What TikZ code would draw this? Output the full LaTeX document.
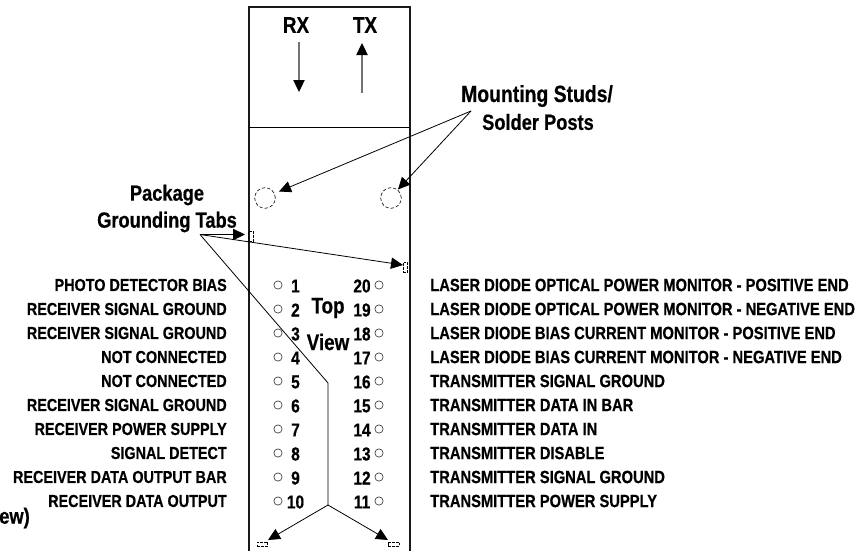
\documentclass[tikz,border=0pt]{standalone}
\usepackage{fontspec}
\setmainfont{Liberation Sans}[BoldFont={Liberation Sans Bold},BoldFeatures={FakeStretch=0.83,FakeBold=0.5},FakeStretch=0.83]
\usetikzlibrary{arrows.meta}
\tikzset{
  lbl/.style={font=\bfseries\fontsize{13}{13}\selectfont,inner sep=0pt,text=black},
  leftlbl/.style={lbl,anchor=east},
  rightlbl/.style={lbl,anchor=west,font=\bfseries\fontsize{13.3}{13.3}\selectfont},
  ctrlbl/.style={lbl,anchor=center,font=\bfseries\fontsize{16.5}{16.5}\selectfont},
  widelbl/.style={lbl,anchor=center,font=\bfseries\fontsize{17.5}{17.5}\selectfont},
  numlbl/.style={lbl,anchor=center,font=\bfseries\fontsize{14}{14}\selectfont},
  biglbl/.style={lbl,anchor=center,font=\bfseries\fontsize{17}{17}\selectfont},
  pin/.style={circle,draw=black!75,line width=0.5pt,minimum size=6.2pt,inner sep=0pt},
  stud/.style={circle,draw=black,dash pattern=on 2.5pt off 1.5pt,line width=0.45pt,minimum size=15.5pt,inner sep=0pt},
  tabbox/.style={draw=black,line width=0.6pt,dash pattern=on 2pt off 1pt,inner sep=0pt},
  body/.style={draw=black!90,line width=1pt},
  lead/.style={draw=black,line width=0.6pt},
  leadarrow/.style={lead,-{Triangle[length=9pt,width=8.5pt]}},
  flow/.style={draw=black!55,line width=0.8pt},
  flowarrow/.style={flow,-{Triangle[length=9pt,width=8.5pt,color=black]}},
}
\begin{document}
\begin{tikzpicture}[x=0.75pt,y=-0.75pt]
\useasboundingbox (0,0) rectangle (856,550);
\path[clip] (0,0) rectangle (856,550);
% package body
\coordinate (bTL) at (249,7);
\coordinate (bTR) at (410,7);
\coordinate (bBL) at (249,552);
\coordinate (bBR) at (410,552);
\coordinate (divL) at (249,127.5);
\coordinate (divR) at (410,127.5);
\draw[body] (bBL) -- (bTL) -- (bTR) -- (bBR);
\draw[body,line width=1.1pt,draw=black] (divL) -- (divR);
% RX TX
\node[biglbl] (rx) at (296,25) {RX};
\node[biglbl] (tx) at (365,25) {TX};
\coordinate (rxa) at (299,42);
\coordinate (rxb) at (299,92);
\coordinate (txa) at (362,92.5);
\coordinate (txb) at (362,43);
\draw[flowarrow] (rxa) -- (rxb);
\draw[flowarrow] (txa) -- (txb);
% studs
\node[stud] (studL) at (265,198) {};
\node[stud] (studR) at (391,198) {};
\node[widelbl] (ms1) at (537,96) {Mounting Studs/};
\node[ctrlbl] (ms2) at (538,122) {Solder Posts};
\coordinate (msO) at (471,111);
\coordinate (msL) at (279,191.5);
\coordinate (msR) at (398,189.5);
\draw[leadarrow] (msO) -- (msL);
\draw[leadarrow] (msO) -- (msR);
% tabs
\node[tabbox,minimum width=3.2pt,minimum height=8pt] (tabL) at (251,236.5) {};
\node[tabbox,minimum width=3.4pt,minimum height=7.5pt] (tabR) at (405.5,267) {};
\node[tabbox,minimum width=8pt,minimum height=3pt] (tabBL) at (262.5,544) {};
\node[tabbox,minimum width=8.5pt,minimum height=3pt] (tabBR) at (394,544) {};
\node[ctrlbl] (pg1) at (167,195) {Package};
\node[ctrlbl] (pg2) at (167,222) {Grounding Tabs};
\coordinate (tO) at (200,234.5);
\coordinate (tL) at (245,234.5);
\coordinate (tR) at (403,265);
\coordinate (kink) at (328,383);
\coordinate (fork) at (328,505);
\coordinate (fL) at (268,540);
\coordinate (fR) at (388,540);
\draw[leadarrow] (tO) -- (tL);
\draw[leadarrow] (tO) -- (tR);
\draw[lead] (tO) -- (kink) -- (fork);
\draw[leadarrow] (fork) -- (fL);
\draw[leadarrow] (fork) -- (fR);
% pins
\foreach \n/\m/\l/\r [count=\i from 0] in {
 1/20/PHOTO DETECTOR BIAS/LASER DIODE OPTICAL POWER MONITOR - POSITIVE END,
 2/19/RECEIVER SIGNAL GROUND/LASER DIODE OPTICAL POWER MONITOR - NEGATIVE END,
 3/18/RECEIVER SIGNAL GROUND/LASER DIODE BIAS CURRENT MONITOR - POSITIVE END,
 4/17/NOT CONNECTED/LASER DIODE BIAS CURRENT MONITOR - NEGATIVE END,
 5/16/NOT CONNECTED/TRANSMITTER SIGNAL GROUND,
 6/15/RECEIVER SIGNAL GROUND/TRANSMITTER DATA IN BAR,
 7/14/RECEIVER POWER SUPPLY/TRANSMITTER DATA IN,
 8/13/SIGNAL DETECT/TRANSMITTER DISABLE,
 9/12/RECEIVER DATA OUTPUT BAR/TRANSMITTER SIGNAL GROUND,
 10/11/RECEIVER DATA OUTPUT/TRANSMITTER POWER SUPPLY}{
  \pgfmathsetmacro\yy{285+24*\i}
  \node[pin] (pl\n) at (278,\yy) {};
  \node[pin] (pr\m) at (379,\yy) {};
  \node[numlbl] (nl\n) at (295.5,\yy+1) {\n};
  \node[numlbl] (nr\m) at (362,\yy+1) {\m};
  \node[leftlbl] (ll\n) at (227,\yy) {\l};
  \node[rightlbl] (lr\m) at (430,\yy) {\r};
}
\node[biglbl] (top) at (328,308) {Top};
\node[biglbl] (view) at (328,342) {View};
\node[ctrlbl,anchor=east] (cut) at (30,518) {ew)};
\end{tikzpicture}
\end{document}
